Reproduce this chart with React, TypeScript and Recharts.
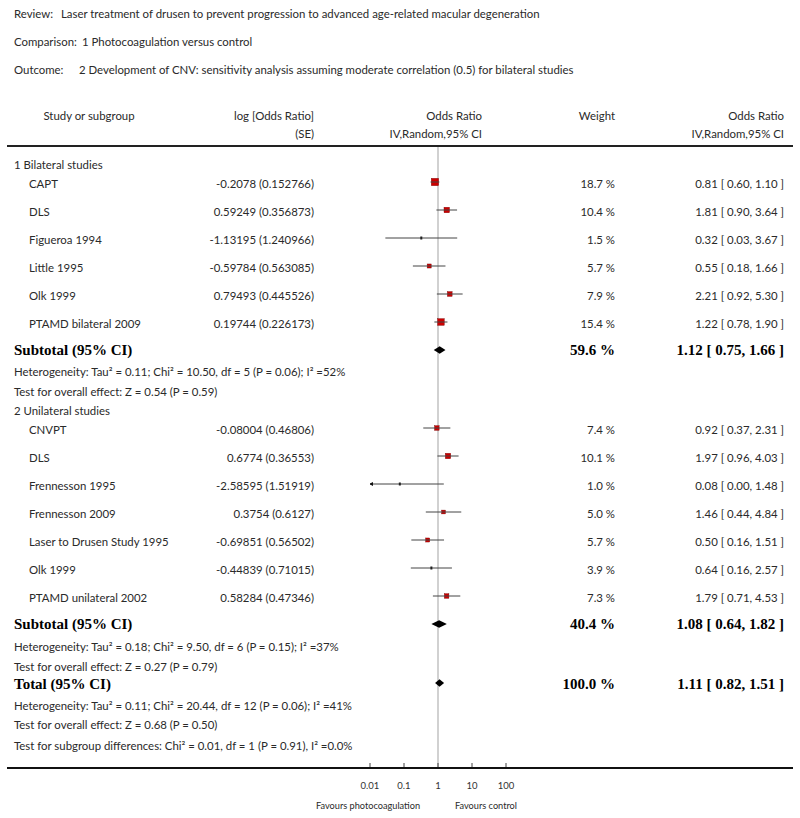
import React from 'react';
import { ComposedChart, XAxis, YAxis, Scatter, ReferenceLine } from 'recharts';

// ---------- text content ----------
const reviewTitle = 'Laser treatment of drusen to prevent progression to advanced age-related macular degeneration';
const comparisonTitle = '1 Photocoagulation versus control';
const outcomeTitle = '2 Development of CNV: sensitivity analysis assuming moderate correlation (0.5) for bilateral studies';

// ---------- group 1: bilateral ----------
const group1Label = '1 Bilateral studies';
const group1Studies = ['CAPT', 'DLS', 'Figueroa 1994', 'Little 1995', 'Olk 1999', 'PTAMD bilateral 2009'];
const group1LogOR = [-0.2078, 0.59249, -1.13195, -0.59784, 0.79493, 0.19744];
const group1SE = [0.152766, 0.356873, 1.240966, 0.563085, 0.445526, 0.226173];
const group1Weight = [18.7, 10.4, 1.5, 5.7, 7.9, 15.4];
const group1OR = [0.81, 1.81, 0.32, 0.55, 2.21, 1.22];
const group1Lower = [0.6, 0.9, 0.03, 0.18, 0.92, 0.78];
const group1Upper = [1.1, 3.64, 3.67, 1.66, 5.3, 1.9];
const group1Subtotal = [1.12, 0.75, 1.66];
const group1SubtotalWeight = 59.6;
const group1Heterogeneity = 'Heterogeneity: Tau² = 0.11; Chi² = 10.50, df = 5 (P = 0.06); I² =52%';
const group1Effect = 'Test for overall effect: Z = 0.54 (P = 0.59)';

// ---------- group 2: unilateral ----------
const group2Label = '2 Unilateral studies';
const group2Studies = ['CNVPT', 'DLS', 'Frennesson 1995', 'Frennesson 2009', 'Laser to Drusen Study 1995', 'Olk 1999', 'PTAMD unilateral 2002'];
const group2LogOR = [-0.08004, 0.6774, -2.58595, 0.3754, -0.69851, -0.44839, 0.58284];
const group2SE = [0.46806, 0.36553, 1.51919, 0.6127, 0.56502, 0.71015, 0.47346];
const group2Weight = [7.4, 10.1, 1.0, 5.0, 5.7, 3.9, 7.3];
const group2OR = [0.92, 1.97, 0.08, 1.46, 0.5, 0.64, 1.79];
const group2Lower = [0.37, 0.96, 0.0, 0.44, 0.16, 0.16, 0.71];
const group2Upper = [2.31, 4.03, 1.48, 4.84, 1.51, 2.57, 4.53];
const group2Subtotal = [1.08, 0.64, 1.82];
const group2SubtotalWeight = 40.4;
const group2Heterogeneity = 'Heterogeneity: Tau² = 0.18; Chi² = 9.50, df = 6 (P = 0.15); I² =37%';
const group2Effect = 'Test for overall effect: Z = 0.27 (P = 0.79)';

// ---------- total ----------
const totalOR = [1.11, 0.82, 1.51];
const totalWeight = 100.0;
const totalHeterogeneity = 'Heterogeneity: Tau² = 0.11; Chi² = 20.44, df = 12 (P = 0.06); I² =41%';
const totalEffect = 'Test for overall effect: Z = 0.68 (P = 0.50)';
const subgroupTest = 'Test for subgroup differences: Chi² = 0.01, df = 1 (P = 0.91), I² =0.0%';

// ---------- axis ----------
const axisTicks = [0.01, 0.1, 1, 10, 100];
const axisTickLabels = ['0.01', '0.1', '1', '10', '100'];
const favoursLeft = 'Favours photocoagulation';
const favoursRight = 'Favours control';

// ---------- layout (row centres, page pixels) ----------
const W = 800;
const H = 818;
const PLOT_LEFT = 370;
const PLOT_RIGHT = 506;
const PLOT_TOP = 147;
const PLOT_BOTTOM = 767;
const g1Rows = group1Studies.map((_, i) => 182 + 28 * i);
const g2Rows = group2Studies.map((_, i) => 428 + 28 * i);
const ROWS = {
  review: 13, comparison: 41, outcome: 69, head1: 115, head2: 133, headLine: 146,
  g1: 164, sub1: 350, het1: 371, test1: 391, g2: 410, sub2: 624, het2: 646, test2: 666,
  total: 684, het3: 705, test3: 724, subgroup: 745, axis: 768, tickLabel: 785, favours: 805,
};
const COL = { left: 14, study: 29, logRight: 314, forestRight: 482, weightRight: 615, orRight: 784 };

const FONT = 'Lato, "Open Sans", sans-serif';
const BOLD = '"Liberation Serif", "DejaVu Serif", serif';
const TXT = '#2a2a2a';
const FS = 11.4;
const BFS = 15;

const LN10 = Math.log(10);
const LOG_MIN = Math.log10(axisTicks[0]);
const LOG_MAX = Math.log10(axisTicks[axisTicks.length - 1]);

type StudyPt = { lo: number; est: number; hi: number; clipLo: boolean; clipHi: boolean; w: number; y: number };

function studyPoints(logOR: number[], se: number[], weight: number[], rows: number[]): StudyPt[] {
  return logOR.map((l, i) => {
    const est = l / LN10;
    const lo = (l - 1.96 * se[i]) / LN10;
    const hi = (l + 1.96 * se[i]) / LN10;
    return {
      est,
      lo: Math.max(lo, LOG_MIN),
      hi: Math.min(hi, LOG_MAX),
      clipLo: lo < LOG_MIN,
      clipHi: hi > LOG_MAX,
      w: weight[i],
      y: rows[i],
    };
  });
}

const studies = [
  ...studyPoints(group1LogOR, group1SE, group1Weight, g1Rows),
  ...studyPoints(group2LogOR, group2SE, group2Weight, g2Rows),
];

const diamonds = [
  { or: group1Subtotal, y: ROWS.sub1 },
  { or: group2Subtotal, y: ROWS.sub2 },
  { or: totalOR, y: ROWS.total - 1 },
];

const Empty = () => <g />;

function makeStudyLine(s: StudyPt) {
  return (props: any) => {
    const pts = props.points || [];
    if (pts.length < 3) return <g />;
    const [pLo, pEst, pHi] = pts;
    const y = pEst.y;
    const side = 1.7 * Math.sqrt(s.w);
    const big = s.w >= 4.5;
    return (
      <g>
        {big && (
          <rect x={pEst.x - side / 2} y={y - side / 2} width={side} height={side} fill="#cc0000" stroke="#7a0000" strokeWidth={0.4} />
        )}
        <line x1={pLo.x} x2={pHi.x} y1={y} y2={y} stroke="#444" strokeWidth={1} />
        {!big && <rect x={pEst.x - 1} y={y - 1.5} width={2} height={3} fill="#222" />}
        {s.clipLo && <polygon points={`${pLo.x - 1},${y} ${pLo.x + 3},${y - 2} ${pLo.x + 3},${y + 2}`} fill="#111" />}
        {s.clipHi && <polygon points={`${pHi.x + 1},${y} ${pHi.x - 3},${y - 2} ${pHi.x - 3},${y + 2}`} fill="#111" />}
      </g>
    );
  };
}

const diamondLine = (props: any) => {
  const pts = props.points || [];
  if (pts.length < 3) return <g />;
  const [a, m, b] = pts;
  const h = 3.8;
  return <polygon points={`${a.x},${m.y} ${m.x},${m.y - h} ${b.x},${m.y} ${m.x},${m.y + h}`} fill="#000" />;
};

const AxisTick = (props: any) => {
  const { x, y, payload } = props;
  const idx = axisTicks.findIndex((t) => Math.abs(Math.log10(t) - payload.value) < 1e-9);
  return (
    <g>
      <line x1={x} x2={x} y1={y - 4} y2={y} stroke="#444" strokeWidth={1} />
      <text x={x} y={ROWS.tickLabel} textAnchor="middle" dominantBaseline="central" fontFamily={FONT} fontSize={9.5} fill="#333">
        {idx >= 0 ? axisTickLabels[idx] : ''}
      </text>
    </g>
  );
};

function T(props: { x: number; y: number; children: React.ReactNode; anchor?: 'start' | 'end' | 'middle'; bold?: boolean; size?: number }) {
  const { x, y, children, anchor = 'start', bold = false, size } = props;
  return (
    <text
      x={x}
      y={y}
      textAnchor={anchor}
      dominantBaseline="central"
      fontFamily={bold ? BOLD : FONT}
      fontWeight={bold ? 700 : 400}
      fontSize={size ?? (bold ? BFS : FS)}
      fill={bold ? '#000' : TXT}
    >
      {children}
    </text>
  );
}

function fmtCI(v: number[]) {
  return `${v[0].toFixed(2)} [ ${v[1].toFixed(2)}, ${v[2].toFixed(2)} ]`;
}

function StudyRows(p: { names: string[]; logOR: number[]; se: number[]; weight: number[]; or: number[]; lo: number[]; hi: number[]; rows: number[] }) {
  return (
    <g>
      {p.names.map((n, i) => (
        <g key={n + i}>
          <T x={COL.study} y={p.rows[i] + 1}>{n}</T>
          <T x={COL.logRight} y={p.rows[i] + 1} anchor="end">{`${p.logOR[i]} (${p.se[i]})`}</T>
          <T x={COL.weightRight} y={p.rows[i] + 1} anchor="end">{`${p.weight[i].toFixed(1)} %`}</T>
          <T x={COL.orRight} y={p.rows[i] + 1} anchor="end">{fmtCI([p.or[i], p.lo[i], p.hi[i]])}</T>
        </g>
      ))}
    </g>
  );
}

export default function App() {
  return (
    <div style={{ position: 'absolute', left: 0, top: 0, width: W, height: H, background: '#fff' }}>
      <ComposedChart
        width={W}
        height={H}
        margin={{ top: PLOT_TOP, bottom: H - PLOT_BOTTOM - 30, left: PLOT_LEFT, right: W - PLOT_RIGHT }}
      >
        <XAxis
          type="number"
          dataKey="x"
          domain={[LOG_MIN, LOG_MAX]}
          ticks={axisTicks.map((t) => Math.log10(t))}
          allowDataOverflow
          axisLine={false}
          tickLine={false}
          tickSize={0}
          tickMargin={0}
          height={30}
          tick={<AxisTick />}
          interval={0}
        />
        <YAxis type="number" dataKey="y" domain={[PLOT_TOP, PLOT_BOTTOM]} reversed hide width={0} allowDataOverflow />
        <ReferenceLine x={0} stroke="#c6c6c6" strokeWidth={1.6} ifOverflow="extendDomain" />
        {studies.map((s, i) => (
          <Scatter
            key={`s${i}`}
            data={[{ x: s.lo, y: s.y }, { x: s.est, y: s.y }, { x: s.hi, y: s.y }]}
            shape={Empty}
            line={makeStudyLine(s)}
            isAnimationActive={false}
          />
        ))}
        {diamonds.map((d, i) => (
          <Scatter
            key={`d${i}`}
            data={[
              { x: Math.log10(d.or[1]), y: d.y },
              { x: Math.log10(d.or[0]), y: d.y },
              { x: Math.log10(d.or[2]), y: d.y },
            ]}
            shape={Empty}
            line={diamondLine}
            isAnimationActive={false}
          />
        ))}
      </ComposedChart>
      <svg width={W} height={H} style={{ position: 'absolute', left: 0, top: 0, pointerEvents: 'none' }}>
        <T x={COL.left} y={ROWS.review}>Review:</T>
        <T x={61} y={ROWS.review}>{reviewTitle}</T>
        <T x={COL.left} y={ROWS.comparison}>Comparison:</T>
        <T x={82} y={ROWS.comparison}>{comparisonTitle}</T>
        <T x={COL.left} y={ROWS.outcome}>Outcome:</T>
        <T x={79} y={ROWS.outcome}>{outcomeTitle}</T>

        <T x={89} y={ROWS.head1} anchor="middle">Study or subgroup</T>
        <T x={COL.logRight} y={ROWS.head1} anchor="end">log [Odds Ratio]</T>
        <T x={COL.logRight} y={ROWS.head2} anchor="end">(SE)</T>
        <T x={COL.forestRight} y={ROWS.head1} anchor="end">Odds Ratio</T>
        <T x={COL.forestRight} y={ROWS.head2} anchor="end">IV,Random,95% CI</T>
        <T x={COL.weightRight} y={ROWS.head1} anchor="end">Weight</T>
        <T x={COL.orRight} y={ROWS.head1} anchor="end">Odds Ratio</T>
        <T x={COL.orRight} y={ROWS.head2} anchor="end">IV,Random,95% CI</T>
        <line x1={7} x2={793} y1={ROWS.headLine} y2={ROWS.headLine} stroke="#222" strokeWidth={2} />

        <T x={COL.left} y={ROWS.g1}>{group1Label}</T>
        <StudyRows names={group1Studies} logOR={group1LogOR} se={group1SE} weight={group1Weight} or={group1OR} lo={group1Lower} hi={group1Upper} rows={g1Rows} />
        <T x={COL.left} y={ROWS.sub1} bold>Subtotal (95% CI)</T>
        <T x={COL.weightRight} y={ROWS.sub1} anchor="end" bold>{`${group1SubtotalWeight.toFixed(1)} %`}</T>
        <T x={COL.orRight} y={ROWS.sub1} anchor="end" bold>{fmtCI(group1Subtotal)}</T>
        <T x={COL.left} y={ROWS.het1}>{group1Heterogeneity}</T>
        <T x={COL.left} y={ROWS.test1}>{group1Effect}</T>

        <T x={COL.left} y={ROWS.g2}>{group2Label}</T>
        <StudyRows names={group2Studies} logOR={group2LogOR} se={group2SE} weight={group2Weight} or={group2OR} lo={group2Lower} hi={group2Upper} rows={g2Rows} />
        <T x={COL.left} y={ROWS.sub2} bold>Subtotal (95% CI)</T>
        <T x={COL.weightRight} y={ROWS.sub2} anchor="end" bold>{`${group2SubtotalWeight.toFixed(1)} %`}</T>
        <T x={COL.orRight} y={ROWS.sub2} anchor="end" bold>{fmtCI(group2Subtotal)}</T>
        <T x={COL.left} y={ROWS.het2}>{group2Heterogeneity}</T>
        <T x={COL.left} y={ROWS.test2}>{group2Effect}</T>

        <T x={COL.left} y={ROWS.total} bold>Total (95% CI)</T>
        <T x={COL.weightRight} y={ROWS.total} anchor="end" bold>{`${totalWeight.toFixed(1)} %`}</T>
        <T x={COL.orRight} y={ROWS.total} anchor="end" bold>{fmtCI(totalOR)}</T>
        <T x={COL.left} y={ROWS.het3}>{totalHeterogeneity}</T>
        <T x={COL.left} y={ROWS.test3}>{totalEffect}</T>
        <T x={COL.left} y={ROWS.subgroup}>{subgroupTest}</T>

        <line x1={7} x2={793} y1={ROWS.axis} y2={ROWS.axis} stroke="#111" strokeWidth={2} />
        <T x={368} y={ROWS.favours} anchor="middle" size={9.2}>{favoursLeft}</T>
        <T x={486} y={ROWS.favours} anchor="middle" size={9.2}>{favoursRight}</T>
      </svg>
    </div>
  );
}
